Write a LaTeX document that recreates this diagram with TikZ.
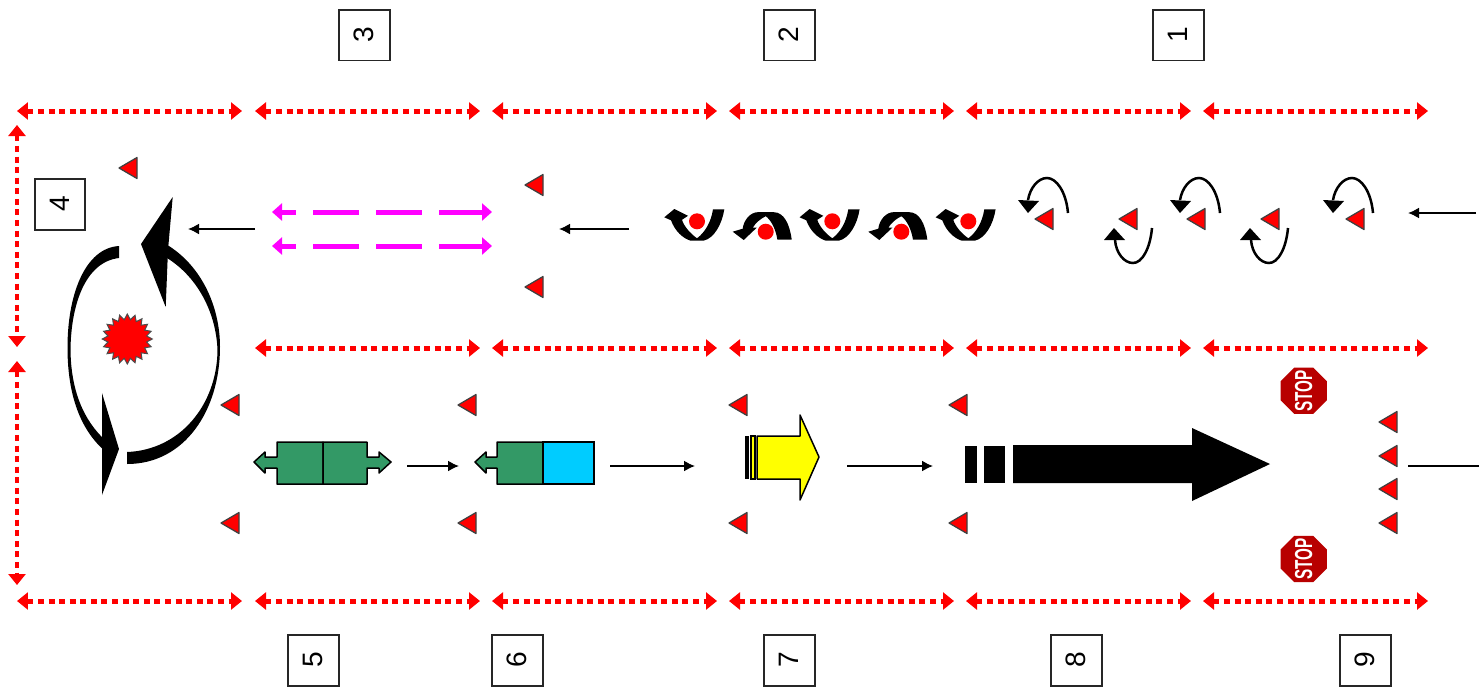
\documentclass[tikz,border=0pt]{standalone}
\usepackage{fontspec}
\setmainfont{Liberation Sans}
\usetikzlibrary{arrows.meta,shapes.geometric}
\definecolor{seagreen}{HTML}{339966}
\definecolor{skyfill}{HTML}{00CCFF}
\definecolor{stopred}{HTML}{B80000}
\definecolor{pinkfill}{HTML}{FF00FF}
\definecolor{yellowfill}{HTML}{FFFF00}
\definecolor{redfill}{HTML}{FF0000}
\tikzset{
    numbox/.style={draw=black!85, line width=.04cm, fill=white, minimum size=1.02cm, inner sep=0pt, rotate=90, font=\fontsize{16}{16}\selectfont},
    redline/.style={redfill, line width=.1cm, dash pattern=on .12cm off .092cm, {Triangle[length=.22cm,width=.34cm]}-{Triangle[length=.22cm,width=.34cm]}},
    pinkline/.style={pinkfill, line width=.1cm, dash pattern=on .92cm off .34cm, dash phase=.62cm, {Triangle[length=.2cm,width=.34cm]}-{Triangle[length=.2cm,width=.34cm]}},
    thinarrow/.style={line width=.035cm, -{Latex[length=.22cm,width=.22cm]}},
    stopsign/.style={regular polygon, regular polygon sides=8, fill=stopred, minimum size=1cm, inner sep=0pt},
    stoptext/.style={text=white, inner sep=0pt, rotate=90, font=\fontsize{14}{14}\selectfont\bfseries},
    redtri/.pic={\draw[fill=redfill, draw=black!75, line width=.025cm, line join=round] (-9,0) -- (9,-10.5) -- (9,10.5) -- cycle;},
    turnup/.pic={
        \draw[line width=.05cm] (24,-6) .. controls (22,-28) and (12,-41) .. (3,-41) .. controls (-6,-41) and (-14,-31) .. (-16,-19);
        \fill (-26,-19) -- (-5,-18) -- (-16,-6) -- cycle;},
    turndown/.pic={
        \draw[line width=.05cm] (24,9) .. controls (22,30) and (14,44) .. (5,44) .. controls (-4,44) and (-12,34) .. (-13,21);
        \fill (-24,21) -- (-3,21) -- (-14,9) -- cycle;},
    bowlarrow/.pic={
        \fill (27.3,-12) .. controls (25,3) and (17,17) .. (6.7,19.3) -- (-6.7,19.3)
            .. controls (-14,17) and (-22,10) .. (-26,-1) -- (-32.7,-4) -- (-22.7,-12.3) -- (-9,-5.5) -- (-15,-1.5)
            .. controls (-13,5) and (-7,12) .. (0,17) .. controls (8,11) and (14,1) .. (16,-12) -- cycle;
        \fill[redfill] (0,0) circle (8);},
    humparrow/.pic={
        \fill (26,8) .. controls (24,-8) and (18,-19.5) .. (8,-19.5) -- (-8,-19.5)
            .. controls (-15,-19.5) and (-22,-12) .. (-23,-3) -- (-33,0) -- (-22,8.3) -- (-9,-4) -- (-13,-4)
            .. controls (-10,-9) and (-5,-13) .. (0,-15.5) .. controls (5,-12) and (10,-3) .. (11.7,8) -- cycle;
        \fill[redfill] (0,0) circle (8);},
}
\begin{document}
\begin{tikzpicture}[x=.02cm, y=-.02cm]
    \useasboundingbox (0,0) rectangle (1479,687);
    \fill[white] (0,0) rectangle (1479,687);

    % Number boxes
    \foreach \n/\x/\y in {3/364/35, 2/789/35, 1/1178/35, 4/60/204, 5/313/660, 6/517/660, 7/789/660, 8/1076/660, 9/1365/660}
        \node[numbox] (box\n) at (\x,\y) {\n};

    % Red borders
    \foreach \x in {17,255,492,729,966,1203}{
        \coordinate (topa) at (\x,111);
        \coordinate (topb) at (\x+225,111);
        \draw[redline] (topa) -- (topb);
        \coordinate (bota) at (\x,601);
        \coordinate (botb) at (\x+225,601);
        \draw[redline] (bota) -- (botb);
    }
    \foreach \x in {255,492,729,966,1203}{
        \coordinate (mida) at (\x,348);
        \coordinate (midb) at (\x+225,348);
        \draw[redline] (mida) -- (midb);
    }
    \coordinate (lefta) at (17,125);
    \coordinate (leftb) at (17,347);
    \coordinate (leftc) at (17,361);
    \coordinate (leftd) at (17,585);
    \draw[redline] (lefta) -- (leftb);
    \draw[redline] (leftc) -- (leftd);

    % Red triangles
    \foreach \x/\y in {128/168, 534/185, 534/287, 230/405, 230/523, 467/405, 467/523, 738/405, 738/523, 958/405, 958/523, 1388/422, 1388/456, 1388/489, 1388/523, 1044/219, 1128/219, 1196/219, 1270/219, 1355/219}
        \pic at (\x,\y) {redtri};

    % Small turning arrows
    \foreach \x in {1044,1196,1349}
        \pic at (\x,219) {turnup};
    \foreach \x in {1128,1264}
        \pic at (\x,219) {turndown};

    % Bent arrows with dots
    \foreach \x in {697,832.3,968.3}
        \pic at (\x,221.3) {bowlarrow};
    \foreach \x in {765.7,901.3}
        \pic at (\x,231.7) {humparrow};

    % Pink arrows
    \coordinate (pinka) at (272,212);
    \coordinate (pinkb) at (492,212);
    \coordinate (pinkc) at (272,246);
    \coordinate (pinkd) at (492,246);
    \draw[pinkline] (pinka) -- (pinkb);
    \draw[pinkline] (pinkc) -- (pinkd);

    % Big circular arrows
    \fill (127,452) .. controls (180,450) and (217,405) .. (217.5,350) .. controls (216,310) and (195,272) .. (160,254)
        -- (162,242) .. controls (200,262) and (220,305) .. (220,347) .. controls (220,410) and (185,464) .. (127,464) -- cycle;
    \fill (141,244) -- (172.7,197) -- (168,250) -- (165.7,307) -- cycle;
    \fill (119,246) .. controls (85,248) and (67,295) .. (67.5,350) .. controls (68,395) and (80,430) .. (106,452)
        -- (106,441) .. controls (83,420) and (71,390) .. (70.5,350) .. controls (71,305) and (85,262) .. (119,258) -- cycle;
    \fill (119,449) -- (102,393) -- (102,495) -- cycle;
    \node[star, star points=20, star point ratio=1.28, draw=black!70, line width=.02cm, fill=redfill, minimum size=1cm, inner sep=0pt] (burst) at (127.3,339) {};

    % Green pieces
    \draw[fill=seagreen, line width=.03cm, line join=round] (323,442) -- (277,442) -- (277,457) -- (265,457) -- (265,452) -- (254,462) -- (265,473) -- (265,468) -- (277,468) -- (277,484) -- (323,484) -- cycle;
    \draw[fill=seagreen, line width=.03cm, line join=round] (323,442) -- (367,442) -- (367,457) -- (379,457) -- (379,452) -- (391,462) -- (379,473) -- (379,468) -- (367,468) -- (367,484) -- (323,484) -- cycle;
    \draw[fill=seagreen, line width=.03cm, line join=round] (543,442) -- (497,442) -- (497,457) -- (486,457) -- (486,452) -- (475,462) -- (486,473) -- (486,468) -- (497,468) -- (497,484) -- (543,484) -- cycle;
    \draw[fill=skyfill, line width=.03cm] (543,442) rectangle (594,484);

    % Yellow arrow
    \fill (745,436) rectangle (748.5,479);
    \draw[fill=yellowfill, line width=.03cm] (751,436) rectangle (755,479);
    \draw[fill=yellowfill, line width=.03cm, line join=round] (757,436) -- (800,436) -- (800,415) -- (819,457) -- (800,500) -- (800,479) -- (757,479) -- cycle;

    % Black arrow
    \fill (965,446) rectangle (977,483);
    \fill (984,446) rectangle (1005,483);
    \fill (1013,445) -- (1192,445) -- (1192,428) -- (1270,464) -- (1192,501) -- (1192,483) -- (1013,483) -- cycle;

    % Stop signs
    \node[stopsign] (stopa) at (1303.7,390.7) {};
    \node[stoptext] (stopalabel) at (stopa) {\scalebox{.62}[1]{STOP}};
    \node[stopsign] (stopb) at (1303.7,559) {};
    \node[stoptext] (stopblabel) at (stopb) {\scalebox{.62}[1]{STOP}};

    % Flow arrows
    \coordinate (flowaa) at (255,229);
    \coordinate (flowab) at (188,229);
    \coordinate (flowba) at (629,229);
    \coordinate (flowbb) at (559,229);
    \coordinate (flowca) at (1476,213);
    \coordinate (flowcb) at (1408,213);
    \coordinate (flowda) at (407,466);
    \coordinate (flowdb) at (459,466);
    \coordinate (flowea) at (610,466);
    \coordinate (floweb) at (695,466);
    \coordinate (flowfa) at (847,466);
    \coordinate (flowfb) at (933,466);
    \coordinate (flowga) at (1479,466);
    \coordinate (flowgb) at (1408,466);
    \foreach \s/\e in {flowaa/flowab, flowba/flowbb, flowca/flowcb, flowda/flowdb, flowea/floweb, flowfa/flowfb}
        \draw[thinarrow] (\s) -- (\e);
    \draw[line width=.035cm] (flowga) -- (flowgb);
\end{tikzpicture}
\end{document}
